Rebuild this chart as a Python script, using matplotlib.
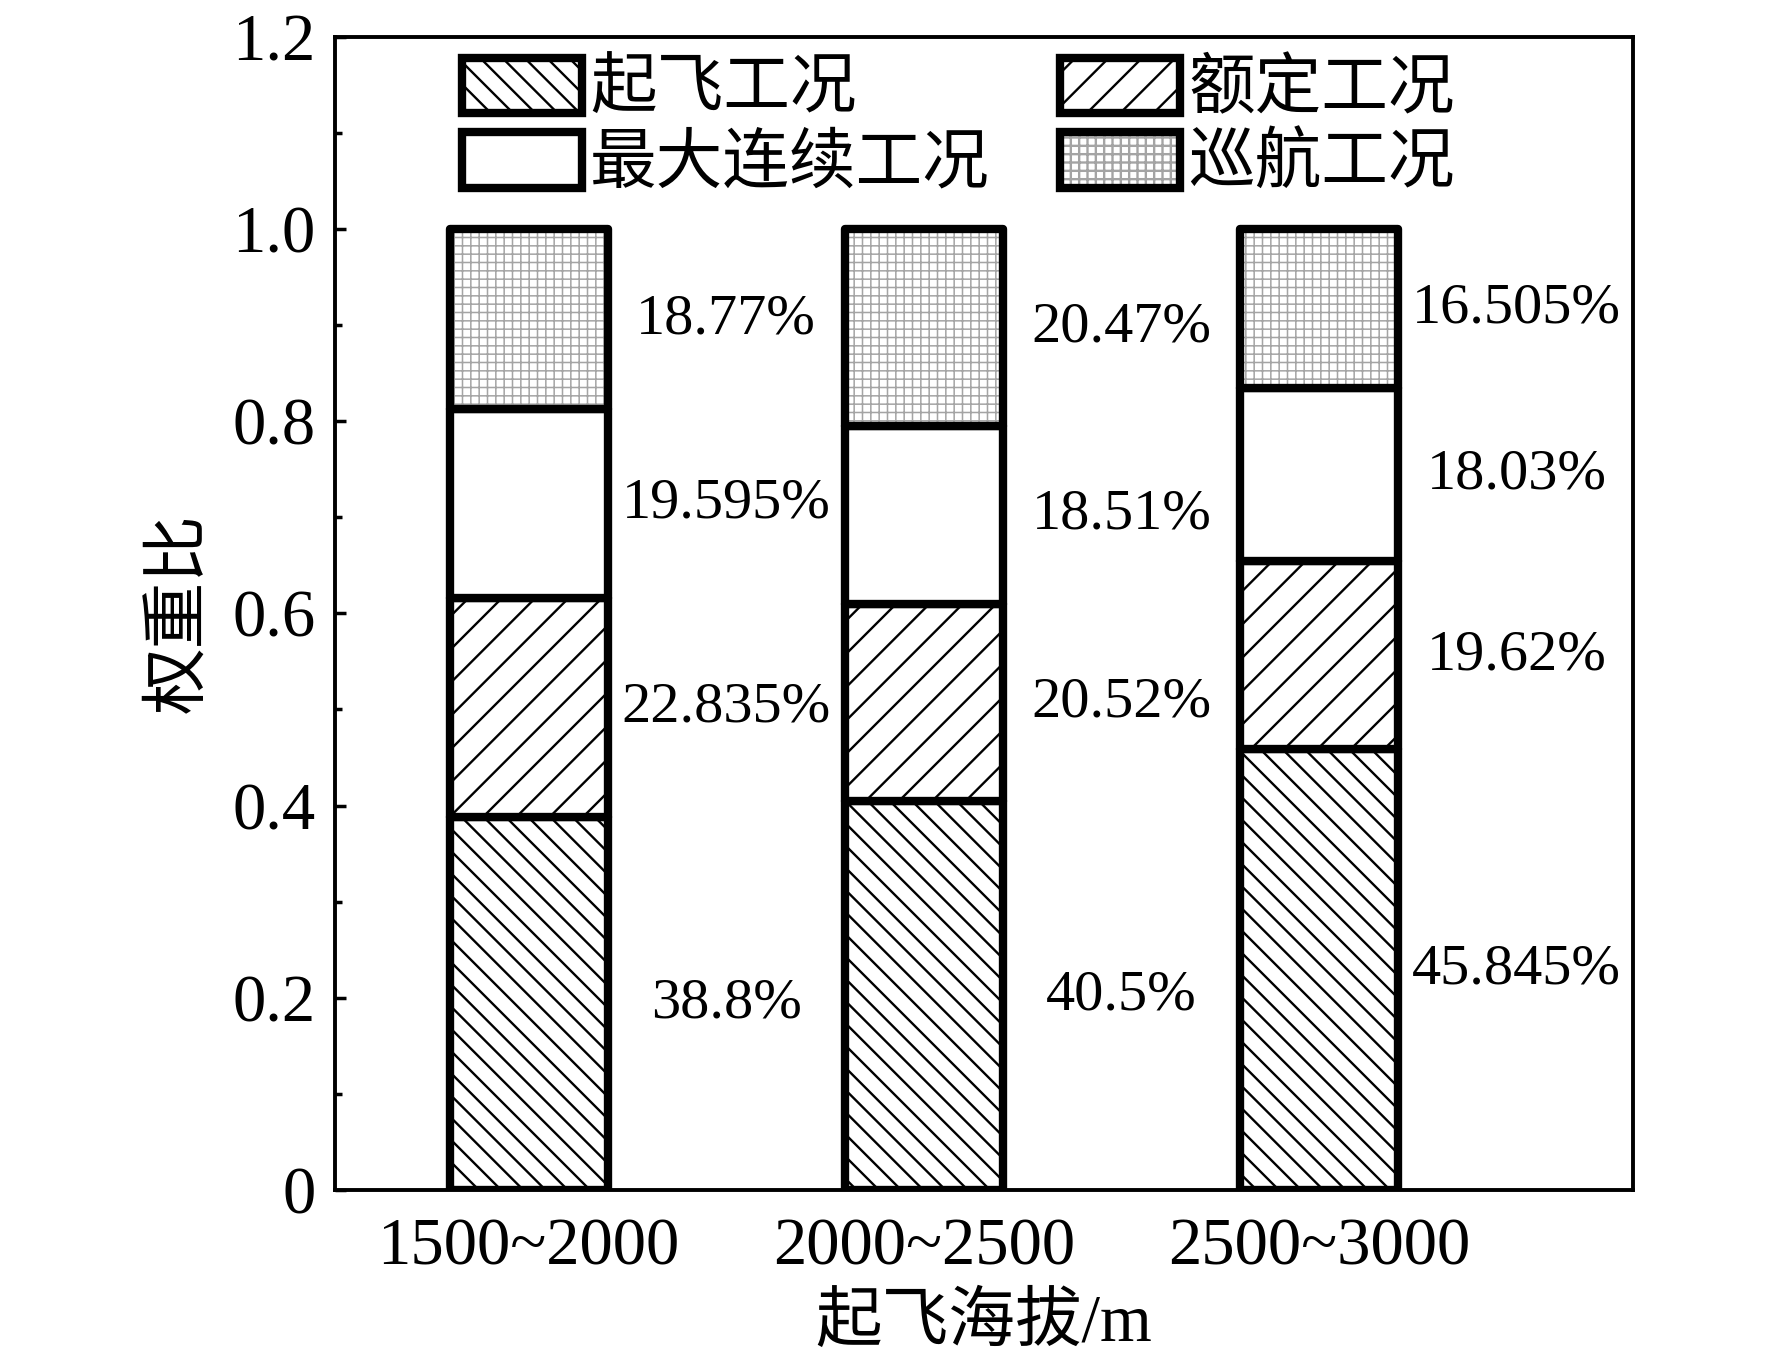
import numpy as np
import matplotlib
matplotlib.use('Agg')
from matplotlib import pyplot as plt
from matplotlib.patches import Patch
from matplotlib.legend_handler import HandlerTuple

plt.rcParams['font.family'] = ['Liberation Serif', 'Noto Sans CJK SC']
plt.rcParams['hatch.linewidth'] = 0.85
plt.rcParams['axes.unicode_minus'] = False

altitudes = ['1500~2000', '2000~2500', '2500~3000']
names = ['起飞工况', '额定工况', '最大连续工况', '巡航工况']
takeoff = [0.388, 0.405, 0.45845]
rated = [0.22835, 0.2052, 0.1962]
max_cont = [0.19595, 0.1851, 0.1803]
cruise = [0.1877, 0.2047, 0.16505]
labels = [['38.8%', '40.5%', '45.845%'],
          ['22.835%', '20.52%', '19.62%'],
          ['19.595%', '18.51%', '18.03%'],
          ['18.77%', '20.47%', '16.505%']]

# dpi picked so the hatch spacing matches the original
DPI = 200
k = 100 / DPI
fs = 48 * k
fs_pct = 42 * k
lw = 6 * k
w = 0.4
x = np.arange(len(altitudes))
hatch_to = '\\' * 3
hatch_ra = '//'
grid_hatch = '++++'
grid_col = '#a4a4a4'

fig = plt.figure(figsize=(1772 / DPI, 1363 / DPI), dpi=DPI)
ax = fig.add_axes([0.189, 0.127, 0.7326, 0.846])

series = [takeoff, rated, max_cont, cruise]
hatches = [hatch_to, hatch_ra, '', None]
bottom = np.zeros(len(x))
for i, vals in enumerate(series):
    vals = np.array(vals)
    if i < 3:
        ax.bar(x, vals, w, bottom=bottom, color='white', edgecolor='black',
               linewidth=lw, hatch=hatches[i], joinstyle='round', zorder=3)
    else:
        with plt.rc_context({'hatch.linewidth': 0.55}):
            ax.bar(x, vals, w, bottom=bottom, color='white', edgecolor=grid_col,
                   linewidth=0, hatch=grid_hatch, zorder=3)
        ax.bar(x, vals, w, bottom=bottom, fill=False, edgecolor='black',
               linewidth=lw, joinstyle='round', zorder=4)
    for j in range(len(x)):
        ax.text(x[j] + 0.5, bottom[j] + vals[j] / 2, labels[i][j],
                ha='center', va='center', fontsize=fs_pct)
    bottom = bottom + vals

ax.set_xlim(-0.49, 2.795)
ax.set_ylim(0, 1.2)
ax.set_xticks(x)
ax.set_xticklabels(altitudes)
ax.set_yticks(np.arange(0, 1.21, 0.2))
ax.set_yticklabels(['0', '0.2', '0.4', '0.6', '0.8', '1.0', '1.2'])
ax.set_yticks(np.arange(0.1, 1.2, 0.2), minor=True)
ax.tick_params(axis='y', which='major', direction='in', length=8 * k,
               width=2.5 * k, labelsize=fs, pad=14 * k)
ax.tick_params(axis='y', which='minor', direction='in', length=5 * k,
               width=2.5 * k)
ax.tick_params(axis='x', length=0, labelsize=fs, pad=20 * k)
for s in ax.spines.values():
    s.set_linewidth(2.8 * k)

ax.set_ylabel('权重比', fontsize=fs, labelpad=15 * k)
ax.set_xlabel('起飞海拔/m', fontsize=fs, labelpad=10 * k)

h_take = Patch(facecolor='white', edgecolor='black', linewidth=lw, hatch=hatch_to)
h_rated = Patch(facecolor='white', edgecolor='black', linewidth=lw, hatch=hatch_ra)
h_max = Patch(facecolor='white', edgecolor='black', linewidth=lw)
with plt.rc_context({'hatch.linewidth': 0.55}):
    h_cr1 = Patch(facecolor='white', edgecolor=grid_col, linewidth=0,
                  hatch=grid_hatch)
h_cr2 = Patch(fill=False, edgecolor='black', linewidth=lw)
ax.legend([h_take, h_max, h_rated, (h_cr1, h_cr2)],
          [names[0], names[2], names[1], names[3]],
          handler_map={tuple: HandlerTuple(ndivide=1)},
          ncol=2, loc='upper left', bbox_to_anchor=(0.098, 0.982),
          frameon=False, fontsize=fs, handlelength=1.8, handleheight=0.9,
          handletextpad=0.12, columnspacing=1.05, labelspacing=0.15,
          borderpad=0, borderaxespad=0)

fig.savefig('out.png', dpi=DPI)
